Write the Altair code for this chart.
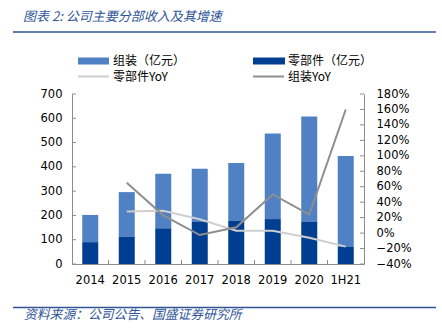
import altair as alt
import pandas as pd

years = ["2014", "2015", "2016", "2017", "2018", "2019", "2020", "1H21"]
parts = [90, 113, 147, 173, 179, 185, 175, 70]            # 零部件（亿元）
assembly = [112, 183, 225, 219, 237, 352, 432, 375]       # 组装（亿元）
parts_yoy = [None, 0.28, 0.29, 0.18, 0.03, 0.03, -0.06, -0.175]
asm_yoy = [None, 0.65, 0.23, -0.025, 0.075, 0.50, 0.24, 1.60]
left_ticks = [0, 100, 200, 300, 400, 500, 600, 700]
right_ticks = [-0.4, -0.2, 0.0, 0.2, 0.4, 0.6, 0.8, 1.0, 1.2, 1.4, 1.6, 1.8]

C_ASM = "#4F81C4"
C_PART = "#003E92"
C_PYOY = "#CFCFCF"
C_AYOY = "#8E8E8E"
C_AXIS = "#8C8C8C"
C_BLUE = "#2F5597"
FONT = "DejaVu Sans"
CJK = "Noto Sans CJK SC"

W, H = 292, 170

df = pd.DataFrame({"year": years, "parts": parts, "assembly": assembly,
                   "pyoy": parts_yoy, "ayoy": asm_yoy})
df["top"] = df["parts"] + df["assembly"]

xaxis = alt.Axis(title=None, labelAngle=0, ticks=False, domainColor=C_AXIS,
                 labelPadding=10, labelFont=FONT, labelFontSize=11.5,
                 labelColor="black", labelOverlap=False)
xscale = alt.Scale(paddingInner=0, paddingOuter=0)
laxis = alt.Axis(title=None, values=left_ticks, ticks=False, grid=False,
                 domainColor=C_AXIS, labelPadding=10, labelFont=FONT,
                 labelFontSize=11.5, labelColor="black",
                 labelOverlap=False, labelFlush=False)
lscale = alt.Scale(domain=[0, 700], nice=False)
raxis = alt.Axis(title=None, orient="right", values=right_ticks, format=".0%",
                 ticks=False, grid=False, domainColor=C_AXIS, labelPadding=12,
                 labelFont=FONT, labelFontSize=11.5, labelColor="black",
                 labelOverlap=False, labelFlush=False)
rscale = alt.Scale(domain=[-0.4, 1.8], nice=False)


def X(**kw):
    return alt.X("year:N", sort=years, scale=xscale, axis=xaxis, **kw)


def YL(f):
    return alt.Y(f, scale=lscale, axis=laxis)


def YR(f):
    return alt.Y(f, scale=rscale, axis=raxis)


base = alt.Chart(df)
bar_asm = base.mark_bar(size=16, color=C_ASM).encode(x=X(), y=YL("parts:Q"), y2="top:Q")
bar_part = base.mark_bar(size=16, color=C_PART).encode(x=X(), y=YL("parts:Q"), y2=alt.datum(0))

lt = alt.Chart(pd.DataFrame({"parts": left_ticks})).mark_rule(color=C_AXIS).encode(
    y=YL("parts:Q"), x=alt.value(0), x2=alt.value(4))
xt = alt.Chart(pd.DataFrame({"year": years[1:]})).mark_rule(color=C_AXIS).encode(
    x=X(bandPosition=0), y=alt.value(H - 4), y2=alt.value(H))

left = alt.layer(bar_asm, bar_part, lt, xt)

line_p = base.mark_line(color=C_PYOY, strokeWidth=2).encode(x=X(), y=YR("pyoy:Q"))
line_a = base.mark_line(color=C_AYOY, strokeWidth=2).encode(x=X(), y=YR("ayoy:Q"))
rt = alt.Chart(pd.DataFrame({"pyoy": right_ticks})).mark_rule(color=C_AXIS).encode(
    y=YR("pyoy:Q"), x=alt.value(W - 4), x2=alt.value(W))
right = alt.layer(line_p, line_a, rt)

one = pd.DataFrame({"k": [0]})


def txt(s, x, y, size=12, color="black", font=CJK, style="normal"):
    return alt.Chart(one).mark_text(align="left", baseline="middle", fontSize=size,
                                    color=color, font=font, fontStyle=style).encode(
        x=alt.value(x), y=alt.value(y), text=alt.value(s))


def rule(x1, x2, y, color, w):
    return alt.Chart(one).mark_rule(color=color, strokeWidth=w).encode(
        x=alt.value(x1), x2=alt.value(x2), y=alt.value(y))


def rect(x1, x2, y1, y2, color):
    return alt.Chart(one).mark_rect(color=color).encode(
        x=alt.value(x1), x2=alt.value(x2), y=alt.value(y1), y2=alt.value(y2))


deco = [
    txt("图表 2:  公司主要分部收入及其增速", -49, -77, 13, C_BLUE, CJK, "italic"),
    rule(-59, 364, -62, C_BLUE, 1.5),
    rule(-59, 364, 213.5, C_BLUE, 1.5),
    txt("资料来源：公司公告、国盛证券研究所", -48, 221, 12.8, C_BLUE, CJK, "italic"),
    rect(6, 37, -36.5, -29.5, C_ASM),
    txt("组装（亿元）", 41, -33),
    rect(181, 213, -36.5, -29.5, C_PART),
    txt("零部件（亿元）", 216, -33),
    rule(6, 37, -17.5, C_PYOY, 2),
    txt("零部件YoY", 41, -17.5),
    rule(181, 212, -17.5, C_AYOY, 2),
    txt("组装YoY", 216, -17.5),
]

chart = alt.layer(left, right, *deco).resolve_scale(y="independent").properties(
    width=W, height=H,
    autosize=alt.AutoSizeParams(type="none"),
    padding={"left": 72, "top": 94, "right": 442 - 72 - W, "bottom": 332 - 94 - H},
    background="white",
).configure_view(stroke=None)

chart.save("out.html", embed_options={"renderer": "svg", "actions": False})
